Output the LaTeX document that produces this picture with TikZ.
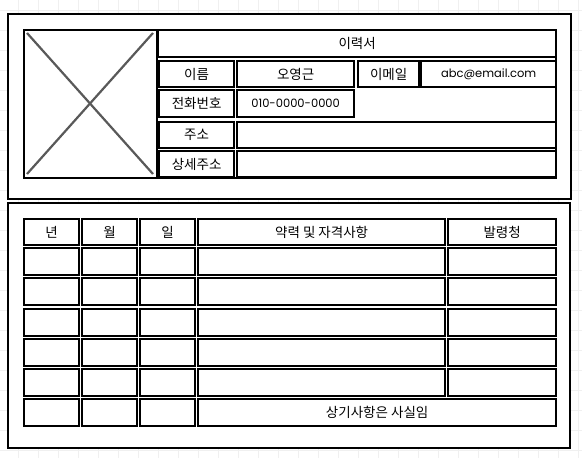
\documentclass[tikz,border=0pt]{standalone}
\usepackage{fontspec}
\setmainfont{Noto Sans CJK KR}
\newfontfamily\latinfont{Poppins}
\begin{document}
\begin{tikzpicture}[x=1pt,y=-1pt,
  panel/.style={draw=black, line width=2.2pt, fill=white, anchor=north west, inner sep=0pt},
  cell/.style={draw=black, line width=2.3pt, fill=white, anchor=north west, inner sep=0pt, font=\fontsize{13.5}{15}\selectfont},
  latin/.style={font=\latinfont\fontsize{11.5}{13}\selectfont},
  xline/.style={draw=black!65, line width=2.2pt}
]
\useasboundingbox (0,0) rectangle (582,458);
\fill[white] (0,0) rectangle (582,458);
% faint grid
\foreach \gx in {18,38,...,578} \draw[black!6, line width=0.6pt] (\gx,0) -- (\gx,458);
\foreach \gy in {10,30,...,450} \draw[black!6, line width=0.6pt] (0,\gy) -- (582,\gy);
% panels
\node[panel, minimum width=563pt, minimum height=185pt] (top) at (7,13) {};
\node[panel, minimum width=562pt, minimum height=245pt] (bottom) at (7,202) {};
% info container
\node[cell, minimum width=532pt, minimum height=148pt] (info) at (23,29) {};
% image placeholder
\node[cell, minimum width=133pt, minimum height=148pt] (img) at (23,29) {};
\coordinate (imgA) at (27,33);
\coordinate (imgB) at (153,33);
\coordinate (imgC) at (153,174);
\coordinate (imgD) at (27,174);
\draw[xline] (imgA) -- (imgC);
\draw[xline] (imgB) -- (imgD);
% title
\node[cell, minimum width=398pt, minimum height=27pt] (title) at (157,29) {이력서};
% row: name
\node[cell, minimum width=75pt, minimum height=26pt] (lname) at (158,60) {이름};
\node[cell, minimum width=117pt, minimum height=26pt] (vname) at (236,60) {오영근};
\node[cell, minimum width=61pt, minimum height=26pt] (lmail) at (357,60) {이메일};
\node[cell, minimum width=135pt, minimum height=26pt, latin] (vmail) at (420,60) {abc@email.com};
% row: phone
\node[cell, minimum width=75pt, minimum height=27pt] (lphone) at (158,89) {전화번호};
\node[cell, minimum width=117pt, minimum height=27pt, latin] (vphone) at (236,89) {010-0000-0000};
% row: address
\node[cell, minimum width=75pt, minimum height=26pt] (laddr) at (158,121) {주소};
\node[cell, minimum width=319pt, minimum height=26pt] (vaddr) at (236,121) {};
% row: detail address
\node[cell, minimum width=75pt, minimum height=26pt] (ldet) at (158,150) {상세주소};
\node[cell, minimum width=319pt, minimum height=26pt] (vdet) at (236,150) {};
% table header
\node[cell, minimum width=55pt, minimum height=26pt] (hy) at (23,218) {년};
\node[cell, minimum width=55pt, minimum height=26pt] (hm) at (81,218) {월};
\node[cell, minimum width=55pt, minimum height=26pt] (hd) at (139,218) {일};
\node[cell, minimum width=247pt, minimum height=26pt] (hc) at (197,218) {약력 및 자격사항};
\node[cell, minimum width=108pt, minimum height=26pt] (ho) at (447,218) {발령청};
% table rows
\foreach \r/\yy in {1/247,2/277,3/308,4/338,5/368}{
  \node[cell, minimum width=55pt, minimum height=27pt] (y\r) at (23,\yy) {};
  \node[cell, minimum width=55pt, minimum height=27pt] (m\r) at (81,\yy) {};
  \node[cell, minimum width=55pt, minimum height=27pt] (d\r) at (139,\yy) {};
  \node[cell, minimum width=247pt, minimum height=27pt] (c\r) at (197,\yy) {};
  \node[cell, minimum width=108pt, minimum height=27pt] (o\r) at (447,\yy) {};
}
\node[cell, minimum width=55pt, minimum height=27pt] (y6) at (23,398) {};
\node[cell, minimum width=55pt, minimum height=27pt] (m6) at (81,398) {};
\node[cell, minimum width=55pt, minimum height=27pt] (d6) at (139,398) {};
\node[cell, minimum width=358pt, minimum height=27pt] (note) at (197,398) {상기사항은 사실임};
\end{tikzpicture}
\end{document}
